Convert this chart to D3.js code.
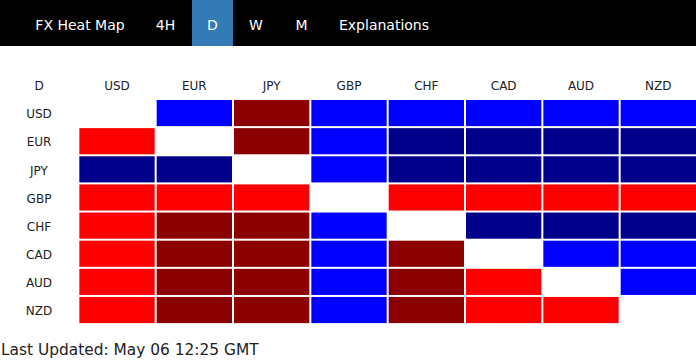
<!DOCTYPE html>
<html><head><meta charset="utf-8">
<script src="https://cdn.jsdelivr.net/npm/d3@7/dist/d3.min.js"></script>
<style>html,body{margin:0;padding:0;background:#fff;}svg{display:block;}</style>
</head><body>
<div id="chart"></div>
<script>
const tabs = ["FX Heat Map", "4H", "D", "W", "M", "Explanations"];
const activeTab = "D";
const timeframe = "D";
const currencies = ["USD", "EUR", "JPY", "GBP", "CHF", "CAD", "AUD", "NZD"];
// strength levels: +2 strong (navy), +1 (blue), -1 (red), -2 strong (dark red), null = same currency
const rowUSD = [null, 1, -2, 1, 1, 1, 1, 1];
const rowEUR = [-1, null, -2, 1, 2, 2, 2, 2];
const rowJPY = [2, 2, null, 1, 2, 2, 2, 2];
const rowGBP = [-1, -1, -1, null, -1, -1, -1, -1];
const rowCHF = [-1, -2, -2, 1, null, 2, 2, 2];
const rowCAD = [-1, -2, -2, 1, -2, null, 1, 1];
const rowAUD = [-1, -2, -2, 1, -2, -1, null, 1];
const rowNZD = [-1, -2, -2, 1, -2, -1, -1, null];
const levels = [-2, -1, 1, 2];
const levelColors = ["#8b0000", "#ff0000", "#0000ff", "#00008b"];
const updated = "Last Updated: May 06 12:25 GMT";

const matrix = [rowUSD, rowEUR, rowJPY, rowGBP, rowCHF, rowCAD, rowAUD, rowNZD];
const W = 696, H = 360;
const font = "DejaVu Sans, Verdana, sans-serif";
const svg = d3.select("#chart").append("svg").attr("width", W).attr("height", H);

// header bar
svg.append("rect").attr("x", 0).attr("y", 0).attr("width", W).attr("height", 46).attr("fill", "#000");
const tabX = d3.scaleOrdinal().domain(tabs).range([80, 165.5, 212.5, 256, 301.5, 384]);
const tabW = {"D": 41};
svg.append("rect")
  .attr("x", tabX(activeTab) - tabW[activeTab] / 2).attr("y", 0)
  .attr("width", tabW[activeTab]).attr("height", 46).attr("fill", "#337ab7");
svg.selectAll("text.tab").data(tabs).join("text")
  .attr("class", "tab")
  .attr("x", d => tabX(d)).attr("y", 29.5)
  .attr("text-anchor", "middle")
  .attr("font-family", font).attr("font-size", 14).attr("fill", "#fff")
  .text(d => d);

// heat map
const x = d3.scaleBand().domain([timeframe, ...currencies]).range([0, W]);
const y = d3.scaleBand().domain(currencies).range([98, 323.1]);
const color = d3.scaleOrdinal().domain(levels).range(levelColors);

svg.selectAll("text.col").data([timeframe, ...currencies]).join("text")
  .attr("class", "col")
  .attr("x", (d, i) => i === 0 ? 39 : x(d) + 1 + x.bandwidth() / 2)
  .attr("y", 90)
  .attr("text-anchor", "middle")
  .attr("font-family", font).attr("font-size", 12).attr("fill", "#222")
  .text(d => d);

svg.selectAll("text.row").data(currencies).join("text")
  .attr("class", "row")
  .attr("x", 39)
  .attr("y", d => y(d) + 2 + y.bandwidth() / 2)
  .attr("dy", "0.35em")
  .attr("text-anchor", "middle")
  .attr("font-family", font).attr("font-size", 12).attr("fill", "#222")
  .text(d => d);

const cells = [];
matrix.forEach((row, ri) => row.forEach((v, ci) => {
  if (v !== null) cells.push({r: currencies[ri], c: currencies[ci], v});
}));
svg.selectAll("rect.cell").data(cells).join("rect")
  .attr("class", "cell")
  .attr("x", d => x(d.c) + 2)
  .attr("y", d => y(d.r) + 2)
  .attr("width", x.bandwidth() - 2)
  .attr("height", y.bandwidth() - 2)
  .attr("fill", d => color(d.v));

svg.append("text")
  .attr("x", 1).attr("y", 355)
  .attr("font-family", font).attr("font-size", 15.4).attr("fill", "#222")
  .text(updated);
</script>
</body></html>
